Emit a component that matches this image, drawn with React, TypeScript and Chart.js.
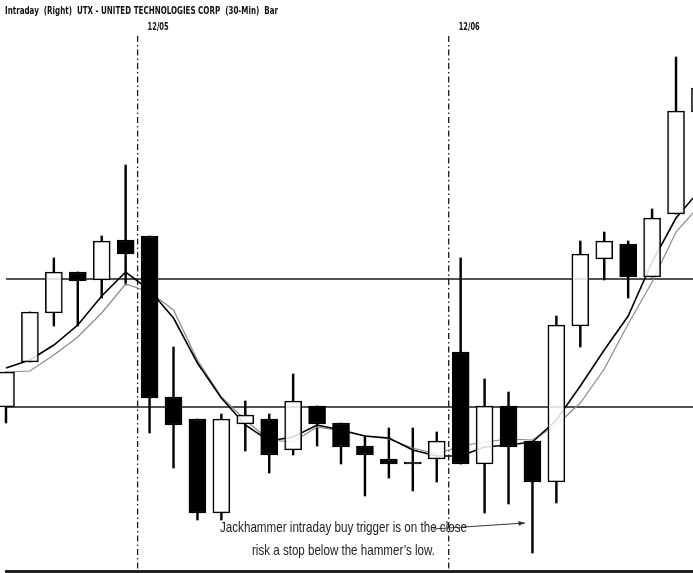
import React, { useEffect, useRef } from "react";
import { Chart, registerables } from "chart.js";

Chart.register(...registerables);

const TITLE = "Intraday  (Right)  UTX - UNITED TECHNOLOGIES CORP  (30-Min)  Bar";
const DATE_LABELS = ["12/05", "12/06"];
const DATE_POSITIONS = [5.5, 18.5];
const LEVELS = [61.0, 59.72];
const NOTE_LINES = [
  "Jackhammer intraday buy trigger is on the close",
  "risk a stop below the hammer\u2019s low.",
];
const ARROW_FROM = [17.84, 58.5];
const ARROW_TO = [21.69, 58.56];

const opens = [59.72, 60.17, 60.66, 61.07, 60.99, 61.39, 61.43, 59.82, 59.6, 58.66, 59.55, 59.6, 59.29, 59.73, 59.56, 59.33, 59.2, 59.15, 59.2, 60.27, 59.15, 59.73, 59.38, 58.97, 60.53, 61.2, 61.35, 61.02, 61.65, 62.67];
const highs = [60.07, 60.67, 61.21, 61.07, 61.43, 62.14, 61.43, 60.32, 59.6, 59.65, 59.78, 59.65, 60.05, 59.73, 59.56, 59.43, 59.51, 59.51, 59.47, 61.21, 60.0, 59.87, 59.38, 60.63, 61.38, 61.47, 61.38, 61.7, 63.22, 62.91];
const lows = [59.56, 60.17, 60.53, 60.53, 60.81, 60.94, 59.46, 59.11, 58.59, 58.59, 59.28, 59.06, 59.24, 59.33, 59.15, 58.83, 59.01, 58.88, 58.97, 59.15, 58.66, 58.75, 58.26, 58.76, 60.32, 60.99, 60.81, 61.02, 61.65, 62.67];
const closes = [60.07, 60.67, 61.07, 60.98, 61.38, 61.25, 59.81, 59.54, 58.66, 59.6, 59.64, 59.24, 59.78, 59.55, 59.32, 59.24, 59.15, 59.15, 59.38, 59.15, 59.73, 59.32, 58.97, 60.54, 61.25, 61.38, 61.02, 61.61, 62.68, 62.91];
const maFast = [60.11, 60.19, 60.34, 60.54, 60.83, 61.07, 60.89, 60.61, 60.16, 59.81, 59.54, 59.38, 59.42, 59.54, 59.49, 59.43, 59.41, 59.29, 59.23, 59.23, 59.32, 59.34, 59.37, 59.59, 59.93, 60.29, 60.63, 61.17, 61.61, 61.89];
const maSlow = [60.07, 60.08, 60.24, 60.42, 60.66, 60.95, 60.87, 60.69, 60.19, 59.82, 59.59, 59.39, 59.37, 59.52, 59.48, 59.43, 59.4, 59.31, 59.25, 59.33, 59.37, 59.4, 59.39, 59.54, 59.76, 60.1, 60.55, 60.97, 61.47, 61.74];

function fitText(ctx: CanvasRenderingContext2D, text: string, x: number, baseline: number, width: number, font: string) {
  ctx.font = font;
  const w = ctx.measureText(text).width;
  ctx.save();
  ctx.translate(x, baseline);
  ctx.scale(width / w, 1);
  ctx.fillText(text, 0, 0);
  ctx.restore();
}

const overlay = {
  id: "overlay",
  beforeDatasetsDraw(chart: any) {
    const { ctx, scales, chartArea } = chart;
    const x = scales.x;
    const y = scales.y;
    ctx.save();
    ctx.strokeStyle = "#1a1a1a";
    ctx.lineWidth = 1.5;
    LEVELS.forEach((l) => {
      const py = y.getPixelForValue(l);
      ctx.beginPath();
      ctx.moveTo(6, py);
      ctx.lineTo(chartArea.right, py);
      ctx.stroke();
    });
    ctx.setLineDash([6, 3, 1.5, 3]);
    ctx.lineWidth = 1.3;
    DATE_POSITIONS.forEach((d) => {
      const px = x.getPixelForValue(d);
      ctx.beginPath();
      ctx.moveTo(px, 36);
      ctx.lineTo(px, 570);
      ctx.stroke();
    });
    ctx.restore();
  },
  afterDatasetsDraw(chart: any) {
    const { ctx, scales } = chart;
    const x = scales.x;
    const y = scales.y;
    ctx.save();
    ctx.fillStyle = "#111";
    ctx.textBaseline = "alphabetic";
    fitText(ctx, TITLE, 5, 14, 273, 'bold 10px "DejaVu Sans"');
    DATE_LABELS.forEach((t, i) => {
      const px = x.getPixelForValue(DATE_POSITIONS[i]);
      fitText(ctx, t, px + 10, 30, 21, 'bold 10px "DejaVu Sans"');
    });
    ctx.fillStyle = "#222";
    fitText(ctx, NOTE_LINES[0], 220, 532, 247, '15px "Liberation Sans Narrow", "Liberation Sans", sans-serif');
    fitText(ctx, NOTE_LINES[1], 252, 555, 183, '15px "Liberation Sans Narrow", "Liberation Sans", sans-serif');
    const x1 = x.getPixelForValue(ARROW_FROM[0]);
    const y1 = y.getPixelForValue(ARROW_FROM[1]);
    const x2 = x.getPixelForValue(ARROW_TO[0]);
    const y2 = y.getPixelForValue(ARROW_TO[1]);
    ctx.strokeStyle = "#333";
    ctx.lineWidth = 1;
    ctx.beginPath();
    ctx.moveTo(x1, y1);
    ctx.lineTo(x2, y2);
    ctx.stroke();
    const ang = Math.atan2(y2 - y1, x2 - x1);
    ctx.beginPath();
    ctx.moveTo(x2, y2);
    ctx.lineTo(x2 - 7 * Math.cos(ang - 0.35), y2 - 7 * Math.sin(ang - 0.35));
    ctx.lineTo(x2 - 7 * Math.cos(ang + 0.35), y2 - 7 * Math.sin(ang + 0.35));
    ctx.closePath();
    ctx.fillStyle = "#333";
    ctx.fill();
    ctx.fillStyle = "#222";
    ctx.fillRect(5, 570, 688, 3);
    ctx.restore();
  },
};

export default function App() {
  const ref = useRef<HTMLCanvasElement | null>(null);
  useEffect(() => {
    if (!ref.current) return;
    const idx = opens.map((_, i) => i);
    const wickOpts = {
      type: "bar",
      backgroundColor: "#000",
      borderWidth: 0,
      barThickness: 1.8,
      grouped: false,
      order: 4,
    };
    const chart = new Chart(ref.current, {
      type: "bar",
      data: {
        datasets: [
          {
            type: "bar",
            label: "body",
            data: idx.map((i) => ({ x: i, y: [opens[i], closes[i]] })) as any,
            backgroundColor: idx.map((i) => (closes[i] > opens[i] ? "rgba(255,255,255,0.85)" : "#000")),
            borderColor: "#000",
            borderWidth: 1.5,
            borderSkipped: false,
            barThickness: 17,
            minBarLength: 2,
            grouped: false,
            order: 1,
          } as any,
          {
            type: "line",
            label: "fast",
            data: idx.map((i) => ({ x: i, y: maFast[i] })),
            borderColor: "#000",
            borderWidth: 1.6,
            pointRadius: 0,
            fill: false,
            tension: 0,
            order: 2,
          } as any,
          {
            type: "line",
            label: "slow",
            data: idx.map((i) => ({ x: i, y: maSlow[i] })),
            borderColor: "#8a8a8a",
            borderWidth: 1.2,
            pointRadius: 0,
            fill: false,
            tension: 0,
            order: 3,
          } as any,
          {
            ...wickOpts,
            label: "upper wick",
            data: idx.map((i) => ({ x: i, y: [Math.max(opens[i], closes[i]), highs[i]] })) as any,
          } as any,
          {
            ...wickOpts,
            label: "lower wick",
            data: idx.map((i) => ({ x: i, y: [lows[i], Math.min(opens[i], closes[i])] })) as any,
          } as any,
        ],
      },
      options: {
        animation: false,
        responsive: false,
        maintainAspectRatio: false,
        layout: { padding: 0 },
        plugins: { legend: { display: false }, tooltip: { enabled: false } },
        scales: {
          x: { type: "linear", min: -0.2507, max: 28.7093, offset: false, display: false },
          y: { type: "linear", min: 58.06, max: 63.79, display: false },
        },
      },
      plugins: [overlay],
    });
    return () => chart.destroy();
  }, []);
  return (
    <div style={{ position: "fixed", left: 0, top: 0, width: 693, height: 573, background: "#fff" }}>
      <canvas ref={ref} width={693} height={573} style={{ display: "block", width: 693, height: 573 }} />
    </div>
  );
}
